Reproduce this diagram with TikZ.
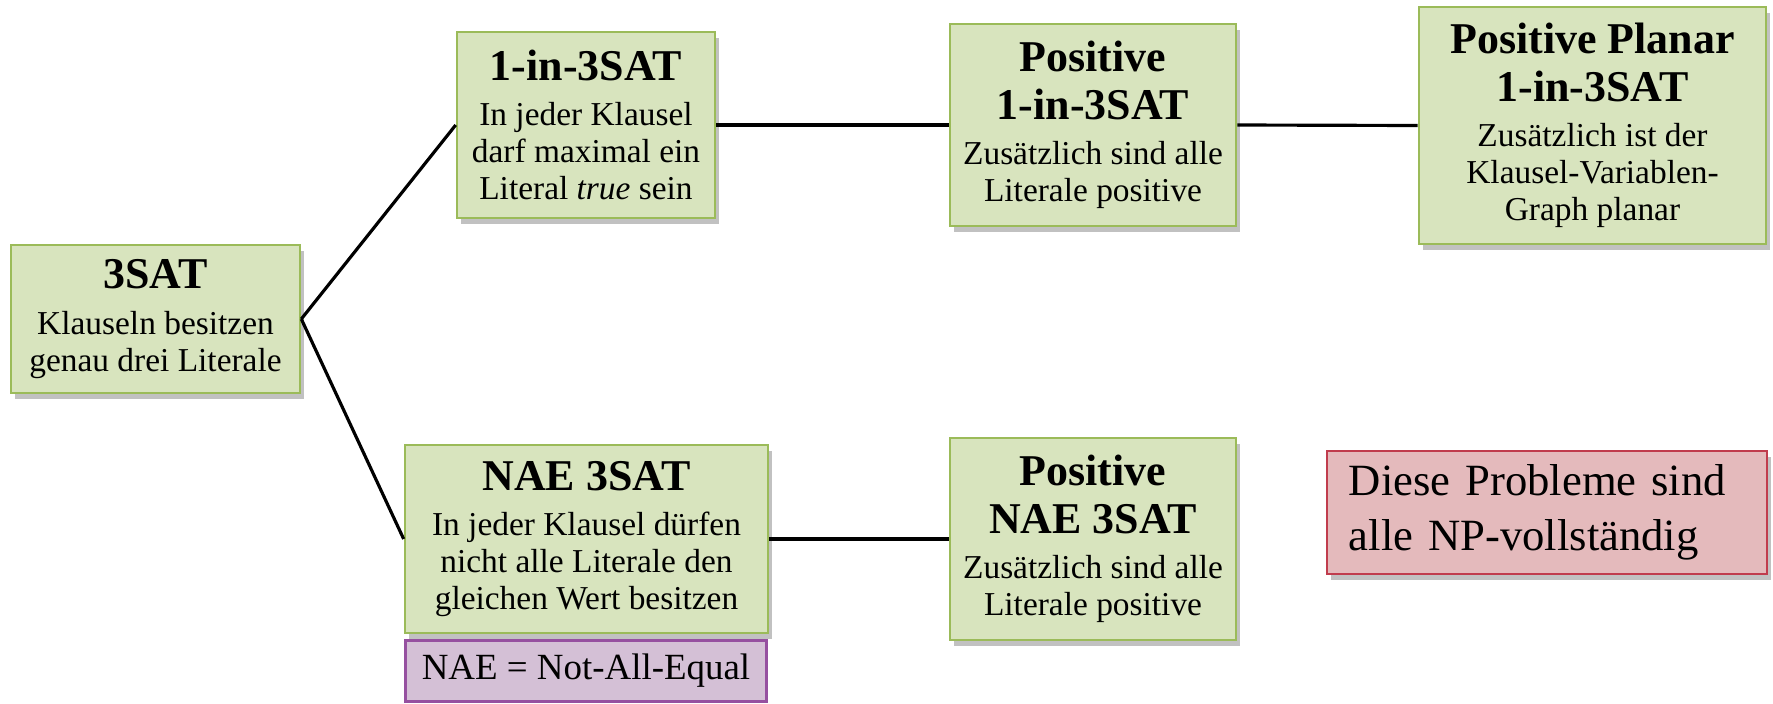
\documentclass[tikz,border=0pt]{standalone}
\usepackage{fontspec}
\setmainfont{Liberation Serif}
\usetikzlibrary{shadows}

\definecolor{probfill}{RGB}{216,228,190}
\definecolor{probline}{RGB}{155,187,89}
\definecolor{notefill}{RGB}{228,186,188}
\definecolor{noteline}{RGB}{192,60,77}
\definecolor{abbrfill}{RGB}{212,192,214}
\definecolor{abbrline}{RGB}{150,80,160}

\tikzset{
  boxshadow/.style={drop shadow={shadow xshift=1.2pt,shadow yshift=-1.6pt,opacity=0.35,fill=black!70}},
  problem/.style={draw=probline,fill=probfill,line width=0.7pt,boxshadow,
    align=center,inner sep=0pt,font=\fontsize{9.5}{10.5}\selectfont},
  note/.style={draw=noteline,fill=notefill,line width=0.7pt,boxshadow,
    align=left,inner ysep=0pt,inner xsep=0.22cm,font=\fontsize{12.7}{15.5}\selectfont},
  abbr/.style={draw=abbrline,fill=abbrfill,line width=0.7pt,
    align=center,inner sep=0pt,font=\fontsize{10.5}{12}\selectfont},
  link/.style={line width=0.9pt,black}
}
\newcommand{\ptitle}[1]{{\fontsize{12.5}{14}\selectfont\bfseries #1}}

\begin{document}
\begin{tikzpicture}[x=0.01cm,y=-0.01cm]
  \useasboundingbox (0,0) rectangle (1773,703);

  % linke Seite
  \node[problem,minimum width=2.89cm,minimum height=1.48cm] (sat) at (155.5,319)
    {\ptitle{3SAT}\\[2.5pt] Klauseln besitzen\\ genau drei Literale};

  % obere Reihe
  \node[problem,minimum width=2.58cm,minimum height=1.86cm] (onein) at (586,125)
    {\ptitle{1-in-3SAT}\\[2.5pt] In jeder Klausel\\ darf maximal ein\\ Literal \textit{true} sein};
  \node[problem,minimum width=2.86cm,minimum height=2.02cm] (posone) at (1093,125)
    {\ptitle{Positive}\\[3pt] \ptitle{1-in-3SAT}\\[2.5pt] Zusätzlich sind alle\\ Literale positive};
  \node[problem,minimum width=3.47cm,minimum height=2.37cm] (planar) at (1592.5,125.5)
    {\ptitle{Positive Planar}\\[3pt] \ptitle{1-in-3SAT}\\[2.5pt] Zusätzlich ist der\\ Klausel-Variablen-\\ Graph planar};

  % untere Reihe
  \node[problem,minimum width=3.63cm,minimum height=1.88cm] (nae) at (586.5,539)
    {\ptitle{NAE 3SAT}\\[2.5pt] In jeder Klausel dürfen\\ nicht alle Literale den\\ gleichen Wert besitzen};
  \node[abbr,minimum width=3.61cm,minimum height=0.61cm] (naedef) at (586,671)
    {NAE = Not-All-Equal};
  \node[problem,minimum width=2.86cm,minimum height=2.02cm] (posnae) at (1093,539)
    {\ptitle{Positive}\\[3pt] \ptitle{NAE 3SAT}\\[2.5pt] Zusätzlich sind alle\\ Literale positive};

  \node[note,text width=3.96cm,minimum height=1.23cm] (np) at (1547,512.5)
    {Diese Probleme sind\\ alle NP-vollständig};

  % Verbindungen
  \draw[link] (sat.east) -- (onein.west);
  \draw[link] (sat.east) -- (nae.west);
  \draw[link] (onein.east) -- (posone.west);
  \draw[link] (posone.east) -- (planar.west);
  \draw[link] (nae.east) -- (posnae.west);
\end{tikzpicture}
\end{document}
